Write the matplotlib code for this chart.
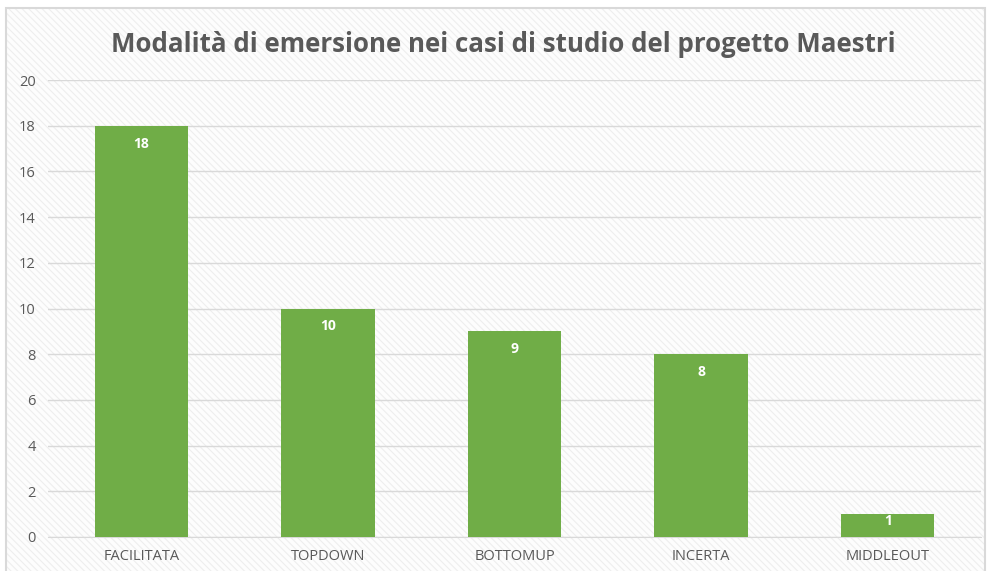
import matplotlib
matplotlib.use("Agg")
import matplotlib.pyplot as plt
from matplotlib.patches import Rectangle
import matplotlib.patheffects as pe

categories = ["FACILITATA", "TOPDOWN", "BOTTOMUP", "INCERTA", "MIDDLEOUT"]
values = [18, 10, 9, 8, 1]
yticks = [0, 2, 4, 6, 8, 10, 12, 14, 16, 18, 20]
title = "Modalità di emersione nei casi di studio del progetto Maestri"

plt.rcParams["hatch.linewidth"] = 0.8
plt.rcParams["font.family"] = ["Open Sans", "DejaVu Sans"]

W, H = 988, 571
fig = plt.figure(figsize=(W / 100, H / 100), dpi=100)
fig.patch.set_facecolor("white")

# chart area background with diagonal hatch and border
bg = Rectangle((6 / W, 0), (985 - 6) / W, 1 - 8 / H, transform=fig.transFigure,
               facecolor="#fdfdfd", edgecolor="#eeeeee", hatch="\\\\\\\\\\",
               linewidth=0, zorder=-2)
fig.patches.append(bg)
border = Rectangle((6 / W, -0.01), (985 - 6) / W, 1 - 8 / H + 0.01, transform=fig.transFigure,
                   facecolor="none", edgecolor="#d9d9d9", linewidth=1.5, zorder=-1)
fig.patches.append(border)

left, right = 48, 981
top, bottom = 80, 537
ax = fig.add_axes([left / W, 1 - bottom / H, (right - left) / W, (bottom - top) / H])
ax.patch.set_alpha(0)
ax.set_zorder(2)

x = list(range(len(categories)))
bars = ax.bar(x, values, width=0.5, color="#70ad47", zorder=3,
              path_effects=[pe.SimplePatchShadow(offset=(0, 0), shadow_rgbFace="#000000", alpha=0.08, rho=1),
                            pe.Normal()])

ax.set_xlim(-0.5, len(categories) - 0.5)
ax.set_ylim(0, 20)
ax.set_yticks(yticks)
ax.set_xticks(x)
ax.set_xticklabels(categories)
ax.yaxis.grid(True, color="#d9d9d9", linewidth=1, zorder=1)
ax.set_axisbelow(True)
for s in ["top", "right", "left"]:
    ax.spines[s].set_visible(False)
ax.spines["bottom"].set_color("#d9d9d9")
ax.tick_params(axis="both", length=0, labelcolor="#595959", labelsize=10.5)
ax.tick_params(axis="x", pad=9)
ax.tick_params(axis="y", pad=9)

px_per_unit = (bottom - top) / 20
for xi, v in zip(x, values):
    off_px = min(18, v * px_per_unit - 16)
    ax.annotate(str(v), (xi, v), xytext=(0, -off_px * 0.72), textcoords="offset points",
                ha="center", va="center", color="white", fontsize=10, fontweight="bold")

fig.text(503 / W, 1 - 45 / H, title, ha="center", va="center", fontsize=18.6,
         fontweight="bold", color="#595959")

fig.savefig("out.png", dpi=100)
